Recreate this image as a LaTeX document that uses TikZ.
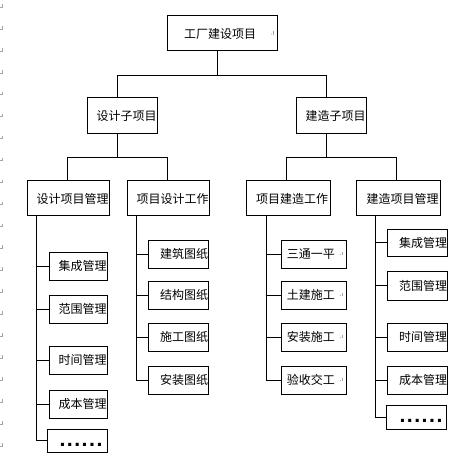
\documentclass[tikz,border=0pt]{standalone}
\usepackage{fontspec}
\newfontfamily\cjk{Noto Sans CJK SC}
\newfontfamily\dotfont{Liberation Sans}
\newcommand{\sixdots}{{\dotfont\fontsize{16}{16}\selectfont\bfseries .\kern1.1pt.\kern1.1pt.\kern1.1pt.\kern1.1pt.\kern1.1pt.}}
\tikzset{
  box/.style={draw, line width=0.75pt, inner sep=0pt, font=\cjk\fontsize{9}{9}\selectfont},
  link/.style={line width=0.75pt},
  pmark/.style={gray!70, line width=0.5pt}
}
\begin{document}
\begin{tikzpicture}[x=0.75pt,y=-0.75pt]
\useasboundingbox (0,0) rectangle (457,459);
% paragraph marks in margin
\foreach \i in {0,...,20} {
  \draw[pmark] (0,{7+21.95*\i}) -- (2.5,{7+21.95*\i}) -- (2.5,{4+21.95*\i});
}
% level 1
\node[box, minimum width=82.5pt, minimum height=26.25pt] (top) at (222,33.5) {工厂建设项目\hspace*{3pt}};
% level 2
\node[box, minimum width=52.5pt, minimum height=27pt] (s1) at (122,116) {\hspace*{6.75pt}设计子项目};
\node[box, minimum width=52.5pt, minimum height=27pt] (s2) at (331,116) {\hspace*{6.75pt}建造子项目};
% level 3
\node[box, minimum width=61.5pt, minimum height=26.25pt] (m1) at (68,198.5) {\hspace*{6.75pt}设计项目管理};
\node[box, minimum width=61.5pt, minimum height=26.25pt] (m2) at (168,198.5) {\hspace*{6.75pt}项目设计工作};
\node[box, minimum width=63pt, minimum height=26.25pt] (m3) at (288,198.5) {\hspace*{6pt}项目建造工作};
\node[box, minimum width=63pt, minimum height=26.25pt] (m4) at (398,198.5) {\hspace*{6.75pt}建造项目管理};
% column 1
\node[box, minimum width=43.5pt, minimum height=21pt] (a1) at (78,266) {\hspace*{6.75pt}集成管理};
\node[box, minimum width=43.5pt, minimum height=21pt] (a2) at (78,309) {\hspace*{6.75pt}范围管理};
\node[box, minimum width=43.5pt, minimum height=21pt] (a3) at (78,360) {\hspace*{6.75pt}时间管理};
\node[box, minimum width=43.5pt, minimum height=21pt] (a4) at (78,404) {\hspace*{6.75pt}成本管理};
\node[box, minimum width=45pt, minimum height=17.25pt] (a5) at (77,440.5) {};
\node at ([xshift=3pt,yshift=-3.5pt]a5.center) {\sixdots};
% column 2
\node[box, minimum width=43.5pt, minimum height=21pt] (b1) at (178,254) {\hspace*{9pt}建筑图纸};
\node[box, minimum width=43.5pt, minimum height=21pt] (b2) at (178,295) {\hspace*{9pt}结构图纸};
\node[box, minimum width=43.5pt, minimum height=21pt] (b3) at (178,337) {\hspace*{9pt}施工图纸};
\node[box, minimum width=43.5pt, minimum height=21pt] (b4) at (178,380) {\hspace*{9pt}安装图纸};
% column 3
\node[box, minimum width=48.75pt, minimum height=21pt] (c1) at (313.5,254) {三通一平\hspace*{4pt}};
\node[box, minimum width=48.75pt, minimum height=21pt] (c2) at (313.5,295) {土建施工\hspace*{4pt}};
\node[box, minimum width=48.75pt, minimum height=21pt] (c3) at (313.5,337) {安装施工\hspace*{4pt}};
\node[box, minimum width=48.75pt, minimum height=21pt] (c4) at (313.5,380) {验收交工\hspace*{4pt}};
% column 4
\node[box, minimum width=43.5pt, minimum height=20.25pt] (d1) at (417,242.5) {\hspace*{9pt}集成管理};
\node[box, minimum width=43.5pt, minimum height=21.75pt] (d2) at (417,285.5) {\hspace*{9pt}范围管理};
\node[box, minimum width=43.5pt, minimum height=21pt] (d3) at (417,337) {\hspace*{9pt}时间管理};
\node[box, minimum width=43.5pt, minimum height=21pt] (d4) at (417,380) {\hspace*{9pt}成本管理};
\node[box, minimum width=45pt, minimum height=18pt] (d5) at (416,417) {};
\node at ([xshift=3.75pt,yshift=-2.75pt]d5.center) {\sixdots};
% small paragraph marks inside boxes
\foreach \n in {top,c1,c2,c3,c4} {
  \fill[gray!70] ([xshift=-4.5pt,yshift=-0.5pt]\n.center -| \n.east) circle (0.35pt);
  \draw[pmark] ([xshift=-3pt,yshift=-0.8pt]\n.center -| \n.east) -- ++(0,2.4pt);
}
% connectors level 1 -> 2
\draw[link] ([xshift=-3.75pt]top.south) -- ++(0,24) coordinate (j1);
\draw[link] (j1) -| ([xshift=-3.75pt]s1.north);
\draw[link] (j1) -| ([xshift=-3.75pt]s2.north);
% level 2 -> 3
\draw[link] ([xshift=-3.75pt]s1.south) -- ++(0,23) coordinate (j2);
\draw[link] (j2) -| ([xshift=-0.75pt]m1.north);
\draw[link] (j2) -| ([xshift=-0.75pt]m2.north);
\draw[link] ([xshift=-3.75pt]s2.south) -- ++(0,23) coordinate (j3);
\draw[link] (j3) -| ([xshift=-1.5pt]m3.north);
\draw[link] (j3) -| ([xshift=-1.5pt]m4.north);
% level 3 -> leaves
\foreach \l in {a1,a2,a3,a4,a5} \draw[link] ([xshift=7.5pt]m1.south west) |- (\l.west);
\foreach \l in {b1,b2,b3,b4} \draw[link] ([xshift=7.5pt]m2.south west) |- (\l.west);
\foreach \l in {c1,c2,c3,c4} \draw[link] ([xshift=15.75pt]m3.south west) |- (\l.west);
\foreach \l in {d1,d2,d3,d4,d5} \draw[link] ([xshift=15pt]m4.south west) |- (\l.west);
\end{tikzpicture}
\end{document}
